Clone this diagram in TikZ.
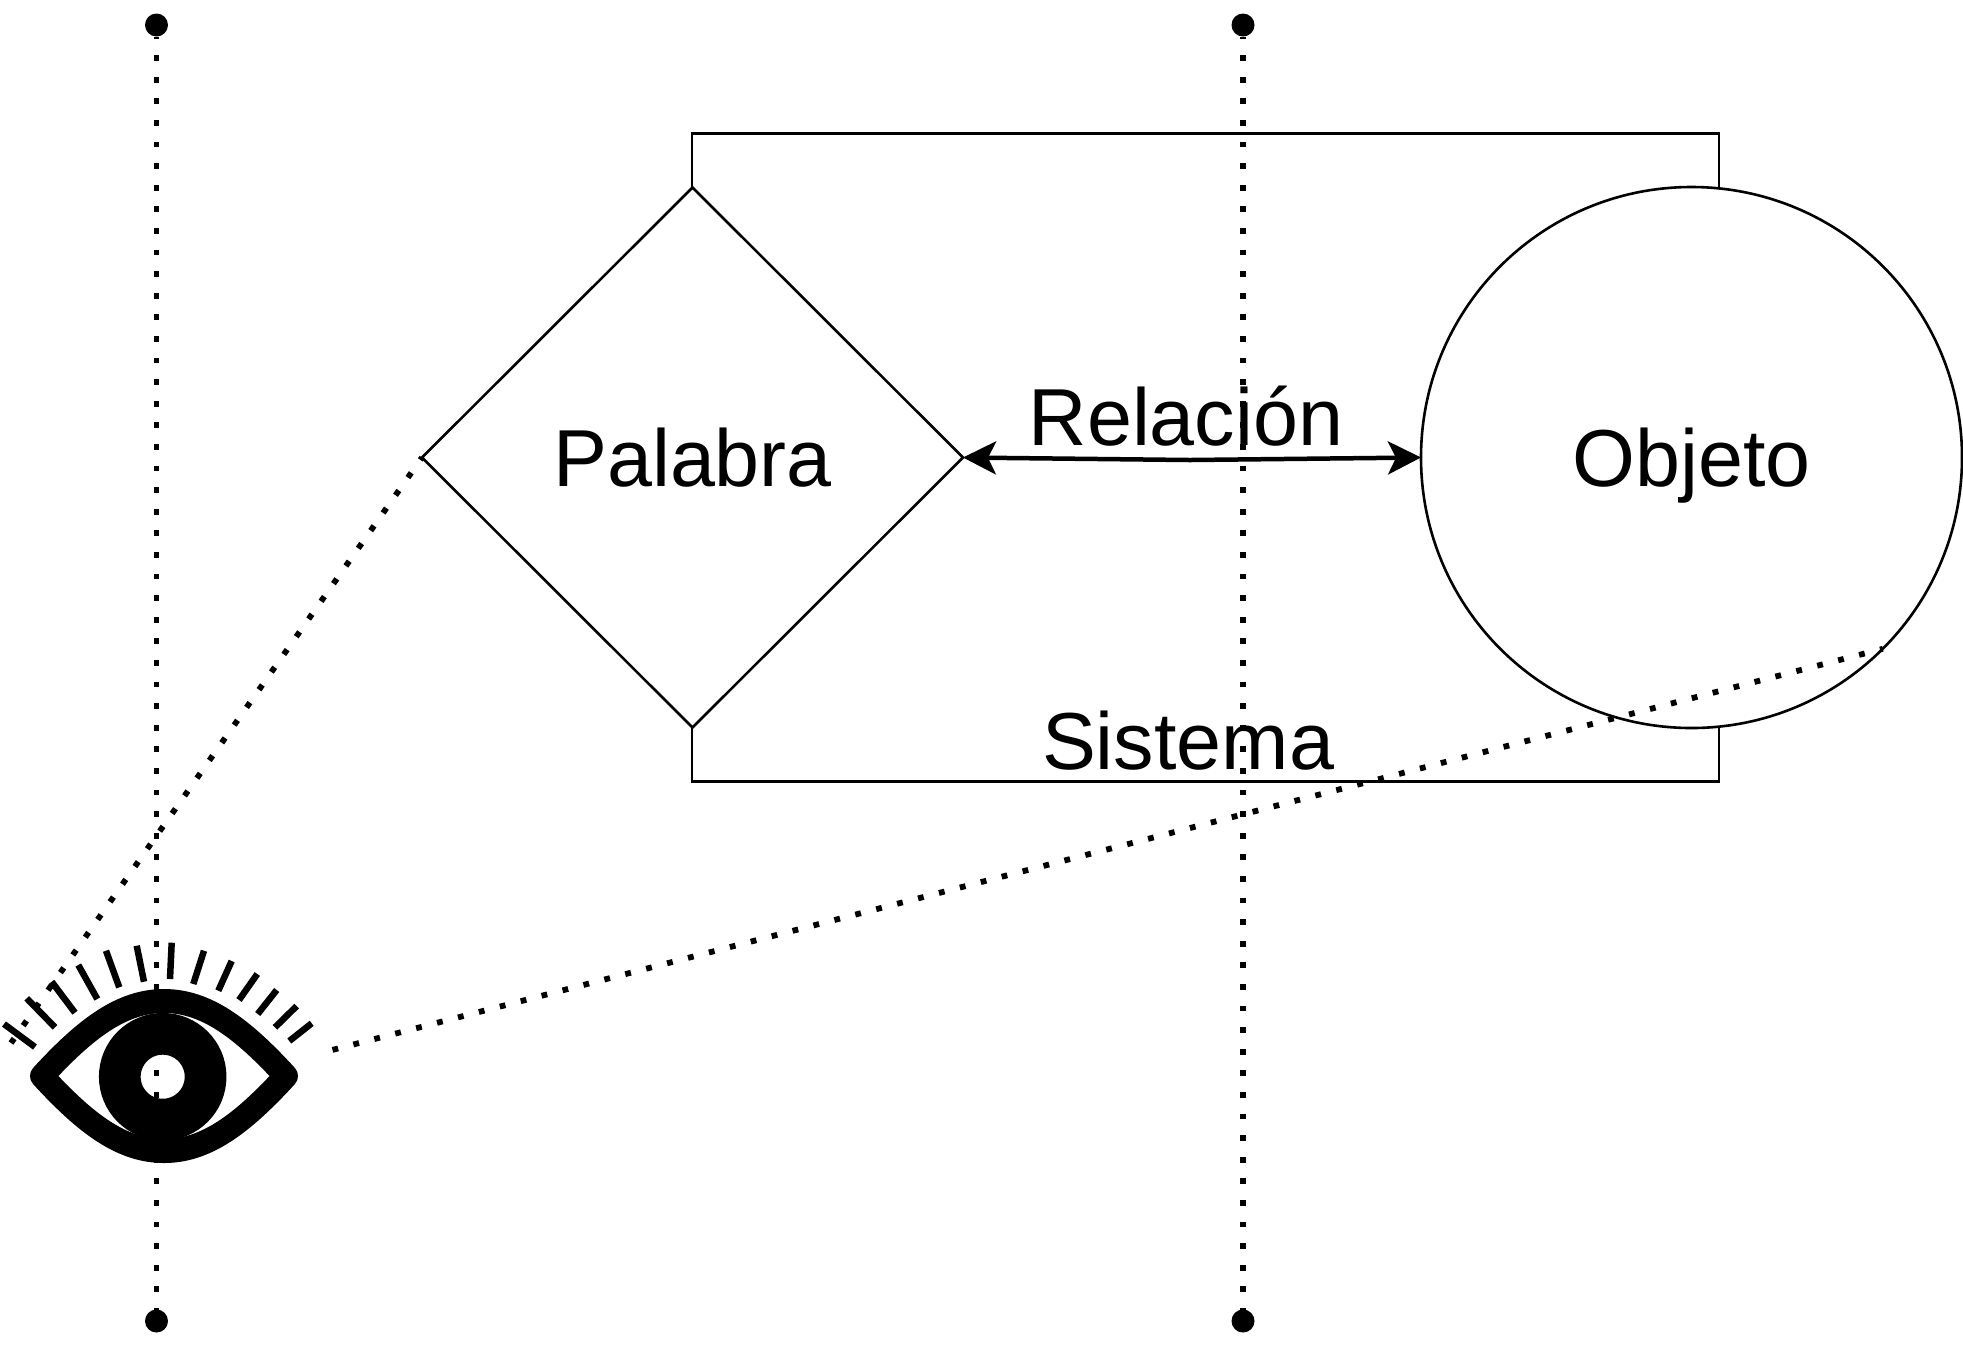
\documentclass[tikz,border=0pt]{standalone}
\usepackage{fontspec}
\setmainfont{Liberation Sans}
\usetikzlibrary{arrows.meta, positioning, shapes.geometric}

\tikzset{
  etiqueta/.style={font=\fontsize{23}{27}\selectfont, inner sep=0pt},
  forma/.style={etiqueta, draw, fill=white, line width=0.026cm, outer sep=0pt},
  punto/.style={circle, fill=black, minimum size=0.23cm, inner sep=0pt, outer sep=0pt},
  punteado/.style={line width=0.058cm, dash pattern=on 0.058cm off 0.158cm, dash phase=0.029cm},
  ojo/.style={line width=0.24cm, line join=round}
}

\begin{document}
\begin{tikzpicture}
  \useasboundingbox (0,0) rectangle (19.63,-13.5);

  % sistema
  \node [draw, line width=0.026cm, outer sep=0pt, inner sep=0pt,
         minimum width=10.27cm, minimum height=6.48cm] (caja) at (12.055,-4.575) {};
  \node [forma, diamond, aspect=1, minimum width=5.41cm, minimum height=5.40cm] (palabra) at (6.925,-4.575) {Palabra};
  \node [forma, circle, text depth=0pt, minimum size=5.41cm, right=4.58cm of palabra] (objeto) {Objeto};

  \coordinate (medio) at (11.9,-4.6);
  \draw [{Stealth[length=0.33cm, width=0.33cm, inset=0.08cm]}-{Stealth[length=0.33cm, width=0.33cm, inset=0.08cm]}, line width=0.045cm]
    (palabra.east) -- (medio) -- (objeto.west);
  \node [etiqueta, anchor=base] (relacion) at (11.86,-4.45) {Relación};
  \node [etiqueta, anchor=base] (sistema) at (11.88,-7.69) {Sistema};

  % ojo
  \draw [ojo] (0.42,-10.76) .. controls (0.86,-10.28) and (1.22,-10.01) .. (1.64,-10.01)
    .. controls (2.06,-10.01) and (2.42,-10.28) .. (2.86,-10.76)
    .. controls (2.42,-11.24) and (2.06,-11.51) .. (1.64,-11.51)
    .. controls (1.22,-11.51) and (0.86,-11.24) .. cycle;
  \draw [line width=0.417cm] (1.627,-10.767) circle (0.429cm);
  \foreach \a/\b/\c/\d in {0.04/-10.24/0.35/-10.47, 0.267/-9.983/0.55/-10.273,
    0.517/-9.817/0.75/-10.127, 0.783/-9.65/0.973/-9.99, 1.06/-9.507/1.193/-9.873,
    1.367/-9.457/1.44/-9.817, 1.717/-9.427/1.70/-9.79, 2.04/-9.507/1.933/-9.84,
    2.317/-9.61/2.183/-9.907, 2.573/-9.74/2.39/-10.0, 2.767/-9.90/2.577/-10.14,
    2.967/-10.06/2.75/-10.273, 3.117/-10.233/2.893/-10.41}{
    \draw [line width=0.065cm] (\a,\b) -- (\c,\d);
  };

  % lineas punteadas
  \node [punto] (arribaA) at (1.565,-0.25) {};
  \node [punto] (abajoA) at (1.565,-13.21) {};
  \node [punto] (arribaB) at (12.43,-0.25) {};
  \node [punto] (abajoB) at (12.43,-13.21) {};
  \coordinate (ojoA) at (0.11,-10.43);
  \coordinate (ojoB) at (3.32,-10.50);

  \draw [punteado] (arribaA) -- (abajoA);
  \draw [punteado] (arribaB) -- (abajoB);
  \draw [punteado] (palabra.west) -- (ojoA);
  \draw [punteado] (objeto.south east) -- (ojoB);
\end{tikzpicture}
\end{document}
